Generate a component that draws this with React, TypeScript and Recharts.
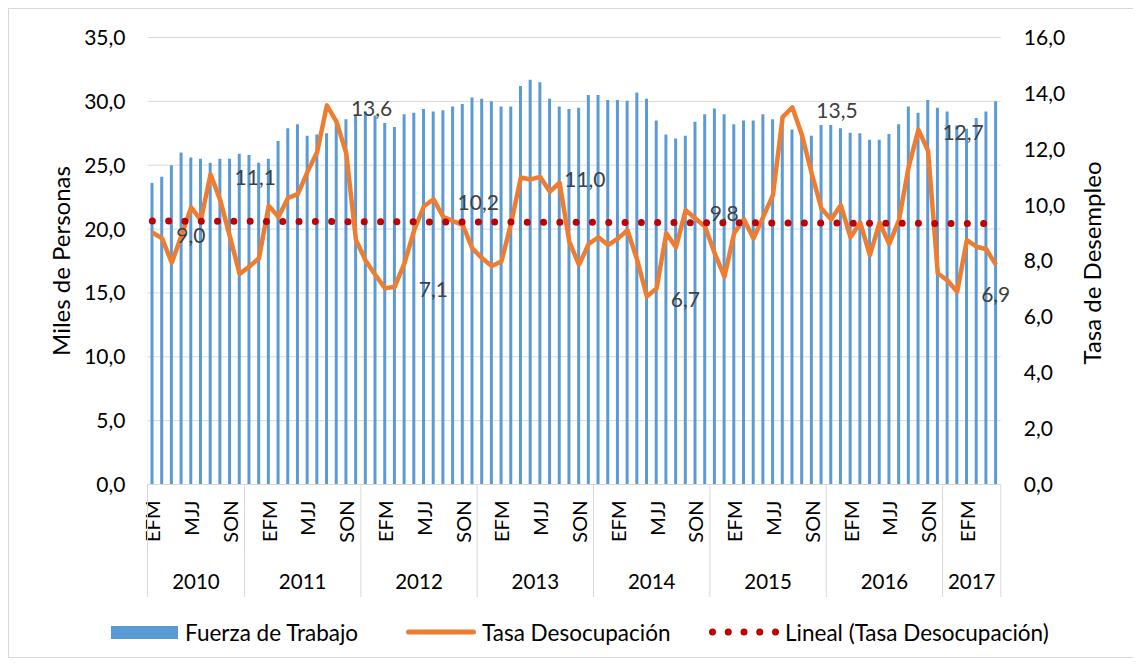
import React from 'react';
import {
  ComposedChart,
  Bar,
  Line,
  XAxis,
  YAxis,
  CartesianGrid,
  ReferenceLine,
  LabelList,
} from 'recharts';

// ---------- data ----------
const YEARS = ['2010', '2011', '2012', '2013', '2014', '2015', '2016', '2017'];

const PERIODS_2010 = ['EFM', 'FMA', 'MAM', 'AMJ', 'MJJ', 'JJA', 'JAS', 'ASO', 'SON', 'OND'];
const PERIODS_FULL = ['NDE', 'DEF', 'EFM', 'FMA', 'MAM', 'AMJ', 'MJJ', 'JJA', 'JAS', 'ASO', 'SON', 'OND'];
const PERIODS_2017 = ['NDE', 'DEF', 'EFM', 'FMA', 'MAM', 'AMJ'];

const YEAR_PERIODS = [
  PERIODS_2010,
  PERIODS_FULL,
  PERIODS_FULL,
  PERIODS_FULL,
  PERIODS_FULL,
  PERIODS_FULL,
  PERIODS_FULL,
  PERIODS_2017,
];

// Fuerza de Trabajo (miles de personas)
const FUERZA_TRABAJO = [
  // 2010
  23.6, 24.1, 25.0, 26.0, 25.6, 25.5, 25.2, 25.5, 25.5, 25.9,
  // 2011
  25.8, 25.2, 25.5, 26.9, 27.9, 28.2, 27.3, 27.4, 27.5, 28.6, 28.6, 29.0,
  // 2012
  29.2, 28.9, 28.3, 28.0, 29.0, 29.1, 29.4, 29.2, 29.3, 29.6, 29.8, 30.3,
  // 2013
  30.2, 30.0, 29.6, 29.6, 31.2, 31.7, 31.5, 30.2, 29.6, 29.4, 29.5, 30.5,
  // 2014
  30.5, 30.1, 30.1, 30.05, 30.7, 30.2, 28.5, 27.4, 27.1, 27.3, 28.4, 29.0,
  // 2015
  29.45, 29.0, 28.2, 28.5, 28.5, 29.0, 28.6, 28.8, 27.8, 27.6, 27.3, 28.15,
  // 2016
  28.15, 27.9, 27.55, 27.5, 27.0, 27.0, 27.45, 28.2, 29.6, 29.1, 30.1, 29.5,
  // 2017
  29.2, 28.1, 27.85, 28.7, 29.2, 30.0,
];

// Tasa Desocupación (%)
const TASA_DESOCUPACION = [
  // 2010
  9.02, 8.81, 7.94, 8.9, 9.92, 9.46, 11.1, 10.18, 8.87, 7.54,
  // 2011
  7.8, 8.1, 9.98, 9.58, 10.26, 10.39, 11.19, 11.9, 13.57, 12.98, 11.85, 8.75,
  // 2012
  8.01, 7.5, 7.02, 7.08, 7.92, 9.1, 9.96, 10.21, 9.58, 9.43, 9.29, 8.45,
  // 2013
  8.1, 7.82, 7.98, 9.35, 10.99, 10.92, 11.01, 10.48, 10.8, 8.69, 7.86, 8.61,
  // 2014
  8.85, 8.57, 8.8, 9.1, 8.04, 6.73, 7.02, 8.99, 8.49, 9.82, 9.52, 9.23,
  // 2015
  8.27, 7.44, 8.99, 9.49, 8.81, 9.58, 10.36, 13.15, 13.5, 12.5, 11.13, 9.88,
  // 2016
  9.49, 10.0, 8.85, 9.37, 8.21, 9.37, 8.61, 9.46, 11.37, 12.7, 11.94, 7.56,
  // 2017
  7.3, 6.9, 8.75, 8.51, 8.42, 7.86,
];

// points that carry a data label
const LABELED_POINTS = [0, 6, 18, 25, 29, 40, 51, 55, 66, 79, 83];

// Lineal (Tasa Desocupación): start / end of trend line
const TREND_START = 9.43;
const TREND_END = 9.34;

const LEFT_TICKS = [0, 5, 10, 15, 20, 25, 30, 35];
const RIGHT_TICKS = [0, 2, 4, 6, 8, 10, 12, 14, 16];

// ---------- build table ----------
type Row = {
  key: string;
  period: string;
  year: string;
  yearStart: boolean;
  yearCount: number;
  fuerza: number;
  tasa: number;
  lbl?: string;
};

const fmt = (v: number) => v.toFixed(1).replace('.', ',');

const DATA: Row[] = [];
YEARS.forEach((year, yi) => {
  const periods = YEAR_PERIODS[yi];
  periods.forEach((period, pi) => {
    const i = DATA.length;
    DATA.push({
      key: `${year}-${period}`,
      period,
      year,
      yearStart: pi === 0,
      yearCount: periods.length,
      fuerza: FUERZA_TRABAJO[i],
      tasa: TASA_DESOCUPACION[i],
      lbl: LABELED_POINTS.includes(i) ? fmt(TASA_DESOCUPACION[i]) : undefined,
    });
  });
});

// ---------- layout ----------
const CHART_W = 1127;
const CHART_H = 648;
const LEFT_W = 138.5;
const RIGHT_W = 135.2;
const TOP = 28.5;
const X_AXIS_H = 172.5;
const BAND = (CHART_W - LEFT_W - RIGHT_W) / DATA.length;
const FONT = 'Lato, "Open Sans", sans-serif';
const GRID = '#d9d9d9';

const CategoryTick = (props: any) => {
  const { x, y, index } = props;
  const d = DATA[index];
  if (!d) return null;
  const sepLen = 112.5;
  return (
    <g>
      {index % 4 === 0 && (
        <text
          x={x}
          y={y + 16}
          transform={`rotate(-90 ${x} ${y + 16})`}
          textAnchor="end"
          dominantBaseline="central"
          fontSize={20}
          fontFamily={FONT}
          fill="#000"
        >
          {d.period}
        </text>
      )}
      {d.yearStart && (
        <>
          <line x1={x - BAND / 2} x2={x - BAND / 2} y1={y} y2={y + sepLen} stroke={GRID} strokeWidth={1} />
          <text
            x={x - BAND / 2 + (d.yearCount * BAND) / 2}
            y={y + 96}
            textAnchor="middle"
            dominantBaseline="central"
            fontSize={20.5}
            fontFamily={FONT}
            fill="#000"
          >
            {d.year}
          </text>
        </>
      )}
      {index === DATA.length - 1 && (
        <line x1={x + BAND / 2} x2={x + BAND / 2} y1={y} y2={y + sepLen} stroke={GRID} strokeWidth={1} />
      )}
    </g>
  );
};

const renderPointLabel = (props: any) => {
  const { x, y, value } = props;
  if (value === undefined || value === null || value === '') return null;
  return (
    <text
      x={x + 24}
      y={y + 2}
      dominantBaseline="central"
      fontSize={21}
      fontFamily={FONT}
      fill="#404040"
    >
      {value}
    </text>
  );
};

const leftTitle = () => (
  <text
    x={51}
    y={252}
    transform="rotate(-90 51 252)"
    textAnchor="middle"
    dominantBaseline="central"
    fontSize={24}
    fontFamily={FONT}
    fill="#000"
  >
    Miles de Personas
  </text>
);

const rightTitle = () => (
  <text
    x={1082}
    y={254}
    transform="rotate(-90 1082 254)"
    textAnchor="middle"
    dominantBaseline="central"
    fontSize={24}
    fontFamily={FONT}
    fill="#000"
  >
    Tasa de Desempleo
  </text>
);

const Legend = () => (
  <svg
    width={CHART_W}
    height={CHART_H}
    style={{ position: 'absolute', left: 0, top: 0, pointerEvents: 'none' }}
  >
    <rect x={102} y={617} width={67} height={13} fill="#5b9bd5" />
    <text x={176} y={623} dominantBaseline="central" fontSize={22.5} fontFamily={FONT} fill="#000">
      Fuerza de Trabajo
    </text>
    <line x1={399.5} x2={464.5} y1={623} y2={623} stroke="#ed7d31" strokeWidth={5} strokeLinecap="round" />
    <text x={473} y={623} dominantBaseline="central" fontSize={22.5} fontFamily={FONT} fill="#000">
      Tasa Desocupación
    </text>
    {[0, 1, 2, 3, 4].map((k) => (
      <circle key={k} cx={703.5 + k * 15.75} cy={623} r={3.5} fill="#c00000" />
    ))}
    <text x={776} y={623} dominantBaseline="central" fontSize={22.5} fontFamily={FONT} fill="#000">
      Lineal (Tasa Desocupación)
    </text>
  </svg>
);

export default function App() {
  return (
    <div
      style={{
        position: 'relative',
        width: CHART_W,
        height: CHART_H,
        border: '1px solid #d9d9d9',
        background: '#fff',
      }}
    >
      <ComposedChart
        width={CHART_W}
        height={CHART_H}
        data={DATA}
        margin={{ top: TOP, right: 0, bottom: 0, left: 0 }}
        style={{ fontFamily: FONT }}
      >
        <CartesianGrid yAxisId="left" vertical={false} stroke={GRID} strokeWidth={1} />
        <XAxis
          dataKey="key"
          interval={0}
          tick={<CategoryTick />}
          tickLine={false}
          tickSize={0}
          tickMargin={0}
          height={X_AXIS_H}
          axisLine={{ stroke: GRID }}
        />
        <YAxis
          yAxisId="left"
          orientation="left"
          width={LEFT_W}
          domain={[0, 35]}
          ticks={LEFT_TICKS}
          tickFormatter={fmt}
          axisLine={false}
          tickLine={false}
          tickSize={0}
          tickMargin={22}
          tick={{ fontSize: 21, fill: '#000', fontFamily: FONT }}
          label={leftTitle}
        />
        <YAxis
          yAxisId="right"
          orientation="right"
          width={RIGHT_W}
          domain={[0, 16]}
          ticks={RIGHT_TICKS}
          tickFormatter={fmt}
          axisLine={false}
          tickLine={false}
          tickSize={0}
          tickMargin={23}
          tick={{ fontSize: 21, fill: '#000', fontFamily: FONT }}
          label={rightTitle}
        />
        <Bar yAxisId="left" dataKey="fuerza" fill="#5b9bd5" barSize={3} isAnimationActive={false} />
        <Line
          yAxisId="right"
          dataKey="tasa"
          type="linear"
          stroke="#ed7d31"
          strokeWidth={4.5}
          strokeLinejoin="round"
          dot={false}
          activeDot={false}
          isAnimationActive={false}
        >
          <LabelList dataKey="lbl" content={renderPointLabel} />
        </Line>
        <ReferenceLine
          yAxisId="right"
          segment={[
            { x: DATA[0].key, y: TREND_START },
            { x: DATA[DATA.length - 1].key, y: TREND_END },
          ]}
          stroke="#c00000"
          strokeWidth={7}
          strokeDasharray="0 16.3"
          strokeLinecap="round"
          ifOverflow="visible"
        />
      </ComposedChart>
      <Legend />
    </div>
  );
}
